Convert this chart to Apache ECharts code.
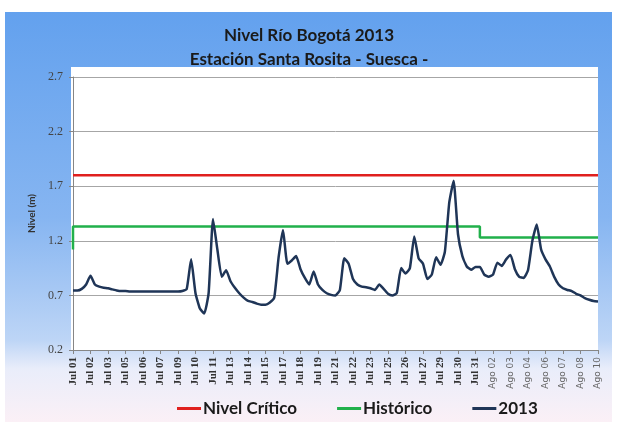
<!DOCTYPE html>
<html>
<head>
<meta charset="utf-8">
<script src="https://cdn.jsdelivr.net/npm/echarts@6/dist/echarts.min.js"></script>
<style>
  html, body { margin: 0; padding: 0; background: #fff; }
  #chart { width: 618px; height: 425px; }
</style>
</head>
<body>
<div id="chart"></div>
<script>
// one point every 8 hours, Jul 01 00h .. Ago 10 00h
var tickLabels = [
  'Jul 01', 'Jul 02', 'Jul 03', 'Jul 05', 'Jul 06', 'Jul 07', 'Jul 09', 'Jul 10',
  'Jul 11', 'Jul 13', 'Jul 14', 'Jul 15', 'Jul 17', 'Jul 18', 'Jul 19', 'Jul 21',
  'Jul 22', 'Jul 23', 'Jul 25', 'Jul 26', 'Jul 27', 'Jul 29', 'Jul 30', 'Jul 31',
  'Ago 02', 'Ago 03', 'Ago 04', 'Ago 06', 'Ago 07', 'Ago 08', 'Ago 10'
]

var nivel2013 = [
  0.745, 0.745, 0.76, 0.80, 0.88, 0.80, 0.78, 0.77, 0.765, 0.755,
  0.745, 0.74, 0.74, 0.735, 0.735, 0.735, 0.735, 0.735, 0.735, 0.735,
  0.735, 0.735, 0.735, 0.735, 0.735, 0.74, 0.76, 1.03, 0.72, 0.58,
  0.535, 0.72, 1.40, 1.12, 0.87, 0.93, 0.83, 0.77, 0.72, 0.68,
  0.65, 0.64, 0.625, 0.615, 0.615, 0.635, 0.68, 1.05, 1.30, 0.99,
  1.02, 1.06, 0.94, 0.86, 0.80, 0.92, 0.80, 0.75, 0.72, 0.705,
  0.70, 0.75, 1.04, 0.99, 0.85, 0.80, 0.78, 0.775, 0.765, 0.75,
  0.80, 0.76, 0.715, 0.70, 0.72, 0.95, 0.90, 0.95, 1.24, 1.04,
  0.99, 0.85, 0.89, 1.05, 0.98, 1.10, 1.55, 1.75, 1.26, 1.06,
  0.965, 0.935, 0.96, 0.96, 0.89, 0.87, 0.89, 1.00, 0.97, 1.03,
  1.07, 0.94, 0.87, 0.86, 0.93, 1.20, 1.35, 1.12, 1.03, 0.965,
  0.87, 0.80, 0.765, 0.75, 0.74, 0.715, 0.70, 0.675, 0.66, 0.648,
  0.645
]

// [point index, value]
var nivelCritico = [[0, 1.80], [120, 1.80]]
var historico = [[0, 1.12], [0, 1.33], [93, 1.33], [93, 1.23], [120, 1.23]]

var categories = []
for (var i = 0; i < nivel2013.length; i++) {
  categories.push(i % 4 === 0 ? tickLabels[i / 4] : '#' + i)
}

var chart = echarts.init(document.getElementById('chart'))

chart.setOption({
  animation: false,
  graphic: [
    {
      type: 'rect',
      z: -10,
      shape: { x: 5, y: 12, width: 607, height: 410 },
      style: {
        fill: new echarts.graphic.LinearGradient(0, 0, 0, 1, [
          { offset: 0, color: '#63a1ee' },
          { offset: 0.5, color: '#86b5f1' },
          { offset: 0.8, color: '#bdd5f6' },
          { offset: 0.87, color: '#e9edfa' },
          { offset: 1, color: '#fbf0f6' }
        ])
      }
    },
    {
      type: 'rect',
      z: -9,
      shape: { x: 71, y: 67, width: 527, height: 284 },
      style: { fill: '#ffffff' }
    }
  ],
  title: {
    text: 'Nivel Río Bogotá 2013\nEstación Santa Rosita - Suesca -',
    left: 'center',
    top: 19,
    textStyle: {
      fontFamily: 'Lato',
      fontWeight: 'bold',
      fontSize: 17,
      lineHeight: 24,
      color: '#1a1a1a'
    }
  },
  legend: {
    left: 177,
    top: 400,
    padding: 0,
    icon: 'rect',
    itemWidth: 24,
    itemHeight: 3,
    itemGap: 40,
    textStyle: {
      fontFamily: 'Lato',
      fontWeight: 'bold',
      fontSize: 17,
      color: '#1a1a1a',
      padding: [0, 0, 0, -3]
    },
    data: ['Nivel Crítico', 'Histórico', '2013']
  },
  grid: {
    left: 73,
    right: 20,
    top: 77,
    bottom: 75
  },
  xAxis: {
    type: 'category',
    data: categories,
    boundaryGap: false,
    axisLine: { lineStyle: { color: '#868686', width: 1 } },
    axisTick: { interval: 3, length: 4, lineStyle: { color: '#868686' } },
    axisLabel: {
      interval: 3,
      rotate: 90,
      margin: 7,
      formatter: function(v) {
        return v.indexOf('Ago') === 0 ? '{a|' + v + '}' : '{j|' + v + '}'
      },
      rich: {
        j: { fontFamily: 'Liberation Serif', fontWeight: 'bold', fontSize: 11, color: '#333' },
        a: { fontFamily: 'DejaVu Sans', fontSize: 9, color: '#666' }
      }
    },
    splitLine: { show: false }
  },
  yAxis: {
    type: 'value',
    min: 0.2,
    max: 2.7,
    interval: 0.5,
    name: 'Nivel (m)',
    nameLocation: 'middle',
    nameGap: 29,
    nameTextStyle: { fontFamily: 'Lato', fontWeight: 'bold', fontSize: 10, color: '#333' },
    axisLine: { show: true, lineStyle: { color: '#868686' } },
    axisTick: { show: true, length: 4, lineStyle: { color: '#868686' } },
    axisLabel: {
      margin: 10,
      fontFamily: 'Liberation Serif',
      fontSize: 12,
      color: '#444',
      formatter: function(v) { return v.toFixed(1) }
    },
    splitLine: { lineStyle: { color: '#a6a6a6', width: 1 } }
  },
  series: [
    {
      name: 'Nivel Crítico',
      type: 'line',
      data: nivelCritico,
      symbol: 'none',
      color: '#e0201e',
      lineStyle: { color: '#e0201e', width: 2.5 }
    },
    {
      name: 'Histórico',
      type: 'line',
      data: historico,
      symbol: 'none',
      color: '#21b04b',
      lineStyle: { color: '#21b04b', width: 2.5 }
    },
    {
      name: '2013',
      type: 'line',
      data: nivel2013,
      symbol: 'none',
      smooth: 0.15,
      color: '#1f3557',
      lineStyle: { color: '#1f3557', width: 2.5 }
    }
  ]
})
</script>
</body>
</html>
